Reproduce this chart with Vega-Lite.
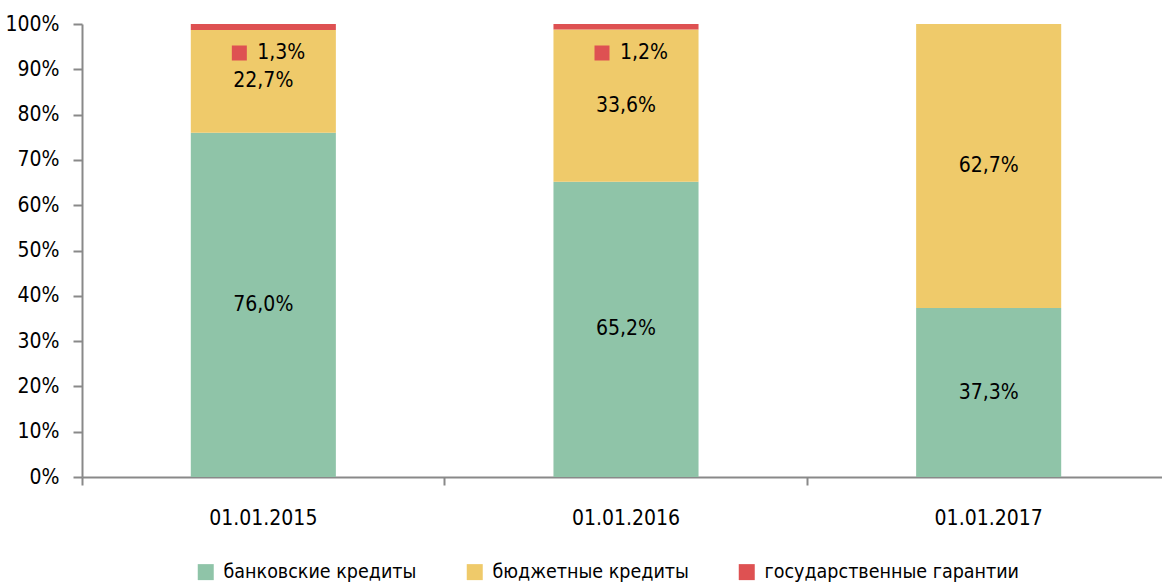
{
  "$schema": "https://vega.github.io/schema/vega-lite/v6.json",
  "width": 1088,
  "height": 453,
  "autosize": "none",
  "padding": {"left": 82, "top": 24, "right": 0, "bottom": 108},
  "background": "white",
  "config": {
    "font": "DejaVu Sans Condensed, sans-serif",
    "view": {"stroke": null}
  },
  "data": {
    "values": [
      {"date": "01.01.2015", "series": "банковские кредиты", "order": 1, "value": 76.0, "label": "76,0%"},
      {"date": "01.01.2015", "series": "бюджетные кредиты", "order": 2, "value": 22.7, "label": "22,7%"},
      {"date": "01.01.2015", "series": "государственные гарантии", "order": 3, "value": 1.3, "label": "1,3%"},
      {"date": "01.01.2016", "series": "банковские кредиты", "order": 1, "value": 65.2, "label": "65,2%"},
      {"date": "01.01.2016", "series": "бюджетные кредиты", "order": 2, "value": 33.6, "label": "33,6%"},
      {"date": "01.01.2016", "series": "государственные гарантии", "order": 3, "value": 1.2, "label": "1,2%"},
      {"date": "01.01.2017", "series": "банковские кредиты", "order": 1, "value": 37.3, "label": "37,3%"},
      {"date": "01.01.2017", "series": "бюджетные кредиты", "order": 2, "value": 62.7, "label": "62,7%"}
    ]
  },
  "encoding": {
    "x": {
      "field": "date", "type": "nominal",
      "scale": {"paddingInner": 0.6, "paddingOuter": 0.3},
      "axis": {
        "title": null, "labelAngle": 0, "labelFontSize": 21, "labelColor": "#000",
        "domainColor": "#898989", "domainWidth": 2, "tickColor": "#898989", "tickWidth": 2,
        "tickSize": 8, "labelPadding": 22, "bandPosition": -0.75
      }
    }
  },
  "layer": [
    {
      "mark": {"type": "bar"},
      "encoding": {
        "y": {
          "field": "value", "type": "quantitative", "stack": "zero",
          "scale": {"domain": [0, 100]},
          "axis": {
            "title": null, "values": [0,10,20,30,40,50,60,70,80,90,100],
            "labelExpr": "datum.value + '%'", "labelFontSize": 21, "labelColor": "#000",
            "grid": false, "domainColor": "#898989", "domainWidth": 2,
            "tickColor": "#898989", "tickWidth": 2, "tickSize": 9, "labelPadding": 14
          }
        },
        "order": {"field": "order", "type": "quantitative"},
        "color": {
          "field": "series", "type": "nominal",
          "scale": {
            "domain": ["банковские кредиты", "бюджетные кредиты", "государственные гарантии"],
            "range": ["#8FC4A8", "#EFCA6A", "#DE5152"]
          },
          "legend": {
            "title": null, "orient": "none", "direction": "horizontal",
            "legendX": 114, "legendY": 538,
            "symbolType": "square", "symbolSize": 256, "symbolStrokeWidth": 0,
            "labelFontSize": 19.5, "labelColor": "#000", "labelOffset": 8, "columnPadding": 48,
            "labelLimit": 500
          }
        }
      }
    },
    {
      "transform": [
        {"filter": "datum.order < 3"},
        {"stack": "value", "groupby": ["date"], "sort": [{"field": "order"}], "as": ["y0", "y1"]},
        {"calculate": "(datum.y0 + datum.y1) / 2", "as": "mid"}
      ],
      "mark": {"type": "text", "fontSize": 21, "color": "#000"},
      "encoding": {
        "y": {"field": "mid", "type": "quantitative"},
        "text": {"field": "label"}
      }
    },
    {
      "transform": [{"filter": "datum.order == 3"}],
      "mark": {"type": "text", "fontSize": 21, "color": "#000", "dx": 18, "dy": 29},
      "encoding": {
        "y": {"datum": 100, "type": "quantitative"},
        "text": {"field": "label"}
      }
    },
    {
      "transform": [{"filter": "datum.order == 3"}],
      "mark": {"type": "point", "shape": "square", "filled": true, "size": 225, "color": "#DE5152", "opacity": 1, "xOffset": -24, "yOffset": 29},
      "encoding": {
        "y": {"datum": 100, "type": "quantitative"}
      }
    }
  ]
}
